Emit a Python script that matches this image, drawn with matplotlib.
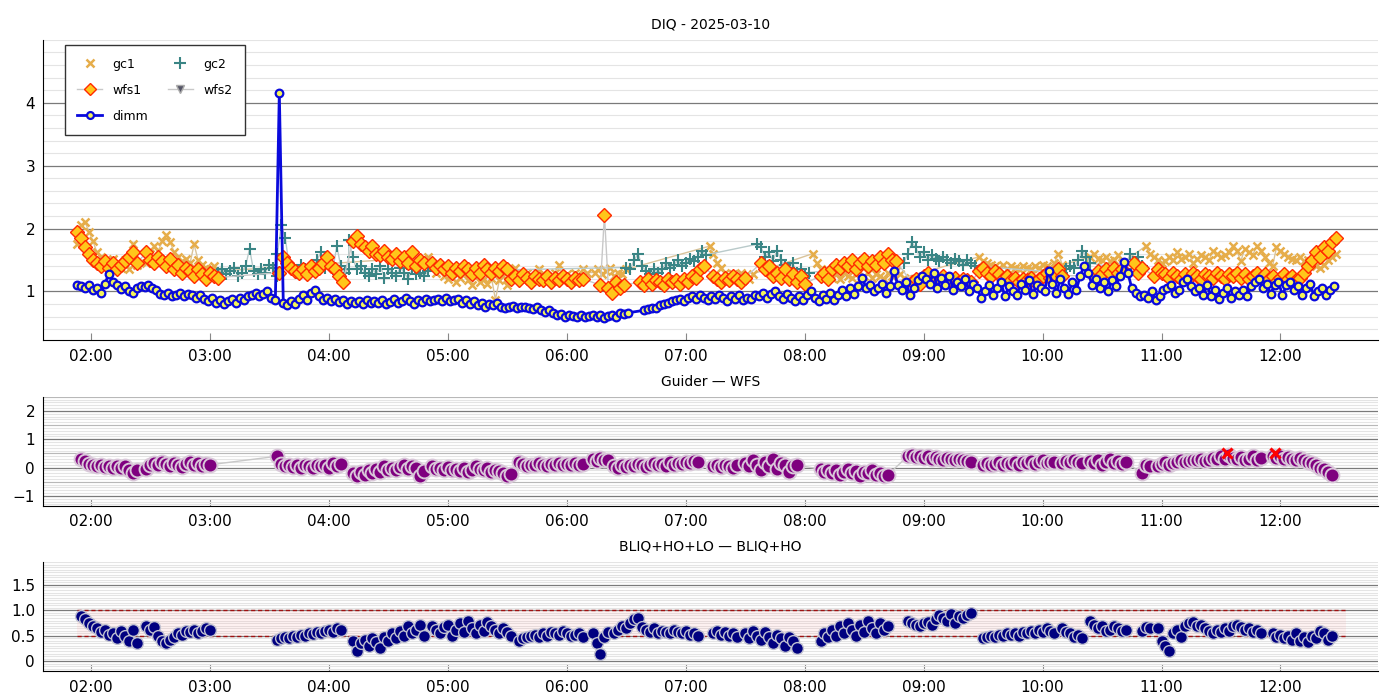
import datetime as dt
import matplotlib
matplotlib.use("Agg")
import matplotlib.pyplot as plt
import matplotlib.dates as mdates
from matplotlib.ticker import MultipleLocator, FixedLocator

BASE = dt.datetime(2025, 3, 10)
STEP_MIN = 2  # sampling cadence of all series (minutes)

# ---------------- DATA (segments: start time, values every STEP_MIN) ----------
dimm = [
    ("01:53", [1.10, 1.08, 1.05, 1.10, 1.02, 1.06, 0.98, 1.12, 1.28, 1.15, 1.10, 1.04, 1.08, 1.00, 0.97,
               1.05, 1.08, 1.07, 1.10, 1.06, 1.02, 0.96, 0.94, 0.97, 0.93, 0.95, 0.98, 0.92, 0.96, 0.94,
               0.90, 0.95, 0.88, 0.84, 0.90, 0.82, 0.86, 0.80, 0.84, 0.88, 0.82, 0.90, 0.86, 0.93, 0.95,
               0.97, 0.92, 0.96, 1.00, 0.90, 0.86, 4.16, 0.82, 0.78, 0.84, 0.80, 0.88, 0.95, 0.86, 0.97,
               1.02, 0.92, 0.86, 0.90, 0.84, 0.88, 0.83, 0.86, 0.80, 0.85, 0.82, 0.84, 0.80, 0.86, 0.82,
               0.84, 0.81, 0.86, 0.80, 0.83, 0.88, 0.82, 0.85, 0.90, 0.84, 0.80, 0.86, 0.83, 0.88, 0.84,
               0.86, 0.88, 0.85, 0.90, 0.84, 0.86, 0.88, 0.82, 0.86, 0.80, 0.84, 0.78, 0.82, 0.76, 0.80,
               0.78, 0.82, 0.76, 0.74, 0.75, 0.77, 0.74, 0.76, 0.75, 0.74, 0.72, 0.75, 0.70, 0.67, 0.70,
               0.66, 0.62, 0.64, 0.60, 0.63, 0.61, 0.60, 0.62, 0.59, 0.61, 0.63, 0.60, 0.62, 0.58, 0.61,
               0.62, 0.60, 0.66, 0.64, 0.66]),
    ("06:39", [0.70, 0.72, 0.74, 0.73, 0.78, 0.80, 0.82, 0.84, 0.86, 0.88, 0.85, 0.90,
               0.92, 0.88, 0.94, 0.90, 0.86, 0.93, 0.88, 0.95, 0.90, 0.85, 0.92, 0.88, 0.94, 0.86, 0.90,
               0.88, 0.95, 0.92, 0.98, 0.90, 0.96, 1.00, 0.92, 0.88, 0.96, 0.90, 0.84, 0.92, 0.86, 0.95,
               1.00, 0.90, 0.84, 0.95, 0.88, 0.98, 0.86, 0.94, 1.02, 0.92, 1.05, 0.96, 1.08, 1.22, 1.05,
               1.10, 1.00, 1.06, 1.12, 0.98, 1.08, 1.33, 1.10, 1.02, 1.15, 0.95, 1.06, 1.18, 1.25, 1.20,
               1.12, 1.30, 1.05, 1.22, 1.10, 1.25, 1.02, 1.15, 1.08, 1.20, 1.00, 1.12, 1.05, 0.90, 1.00,
               1.10, 0.95, 1.05, 1.15, 0.92, 1.08, 1.00, 0.94, 1.12, 1.02, 1.18, 0.96, 1.10, 1.05, 1.00,
               1.33, 1.12, 0.98, 1.20, 1.05, 0.96, 1.15, 1.02, 1.25, 1.41, 1.30, 1.10, 1.20, 1.05, 1.15,
               1.00, 1.18, 1.08, 1.25, 1.46, 1.30, 1.05, 0.98, 0.92, 0.95, 0.90, 1.00, 0.86, 0.92, 1.02,
               1.05, 1.10, 0.98, 1.02, 1.15, 1.20, 1.08, 1.00, 1.06, 0.95, 1.10, 0.92, 1.02, 0.88, 0.98,
               1.05, 0.90, 1.00, 0.95, 1.02, 0.92, 1.08, 1.15, 1.20, 1.05, 1.12, 0.96, 1.10, 1.15, 0.94,
               1.10, 1.15, 1.02, 1.08, 0.95, 1.05, 1.12, 0.92, 1.00, 1.06, 0.94, 1.02, 1.08]),
]

gc1 = [
    ("01:53", [1.75, 2.05, 2.10, 1.95, 1.80, 1.62, 1.55, 1.48, 1.45, 1.52, 1.40, 1.38, 1.50, 1.36, 1.75, 1.42]),
    ("02:28", [1.45, 1.60, 1.72, 1.65, 1.80, 1.90, 1.78, 1.62, 1.55, 1.48, 1.52, 1.45, 1.75, 1.50, 1.42,
               1.38, 1.35, 1.40, 1.32]),
    ("04:50", [1.55, 1.40, 1.30, 1.35, 1.25, 1.20, 1.30, 1.15, 1.22, 1.28, 1.18, 1.10, 1.25, 1.15, 1.20,
               1.12, 1.22, 0.87, 1.18, 1.25, 1.10]),
    ("05:32", [1.22, 1.38, 1.28, 1.20, 1.30, 1.25, 1.22, 1.35, 1.28, 1.25, 1.18, 1.30, 1.42, 1.25, 1.28,
               1.22, 1.30, 1.25, 1.35, 1.30]),
    ("06:14", [1.30, 1.35, 1.28, 1.32, 1.38, 1.25, 1.30, 1.28, 1.35]),
    ("07:12", [1.72, 1.60, 1.45, 1.38, 1.30, 1.25, 1.28, 1.22, 1.30, 1.25, 1.20, 1.28]),
    ("08:04", [1.60, 1.45, 1.35, 1.30, 1.25, 1.22, 1.28, 1.20, 1.30, 1.25, 1.22, 1.28, 1.20, 1.25, 1.30,
               1.22, 1.28, 1.25, 1.20, 1.30, 1.25, 1.32, 1.28, 1.22]),
    ("09:28", [1.55, 1.48, 1.45, 1.42, 1.40, 1.38, 1.42, 1.36, 1.40, 1.38, 1.35, 1.40, 1.38, 1.36, 1.40,
               1.38, 1.42, 1.40, 1.38, 1.45, 1.60, 1.42]),
    ("10:24", [1.55, 1.60, 1.52, 1.50, 1.55, 1.48, 1.50, 1.58, 1.45]),
    ("10:52", [1.72, 1.60, 1.55, 1.50, 1.45, 1.48, 1.55, 1.50, 1.62, 1.52, 1.55, 1.60, 1.45, 1.52, 1.58,
               1.55, 1.50, 1.65, 1.60, 1.55, 1.58, 1.62, 1.72, 1.65, 1.48, 1.68, 1.62, 1.58, 1.72, 1.65,
               1.55, 1.45, 1.40, 1.70, 1.65, 1.60, 1.55, 1.52, 1.50, 1.55, 1.48, 1.50, 1.45, 1.40, 1.38,
               1.42, 1.50, 1.55, 1.60]),
]

gc2 = [
    ("03:04", [1.30, 1.35, 1.28, 1.32, 1.38, 1.25, 1.30, 1.40, 1.68, 1.33, 1.28, 1.35, 1.30, 1.42, 1.38, 1.25]),
    ("03:34", [1.60, 2.05, 1.85, 1.40, 1.35, 1.30, 1.42, 1.35, 1.28, 1.40, 1.50, 1.62, 1.38, 1.45, 1.35,
               1.72, 1.40, 1.30, 1.35]),
    ("04:10", [1.82, 1.55, 1.35, 1.40, 1.30, 1.25, 1.35, 1.28, 1.40, 1.22, 1.35, 1.30, 1.25, 1.38, 1.30,
               1.20, 1.35, 1.28, 1.30, 1.25, 1.32]),
    ("06:30", [1.38, 1.35, 1.50, 1.60, 1.40, 1.32, 1.28, 1.35]),
    ("06:46", [1.30, 1.35, 1.45, 1.38, 1.42, 1.50, 1.40, 1.45, 1.52, 1.48, 1.55, 1.65, 1.58]),
    ("07:36", [1.75, 1.70, 1.55, 1.62, 1.48, 1.65, 1.50, 1.42, 1.38, 1.45, 1.30, 1.35, 1.25, 1.30]),
    ("08:50", [1.45, 1.60, 1.78, 1.70, 1.55, 1.62, 1.50, 1.58, 1.52, 1.48, 1.55, 1.50, 1.45, 1.52, 1.48,
               1.42, 1.50, 1.45, 1.40]),
    ("10:10", [1.30, 1.35, 1.40, 1.38, 1.50, 1.65, 1.55, 1.45]),
    ("10:42", [1.35, 1.60, 1.45, 1.55, 1.40]),
]

wfs1 = [
    ("01:53", [1.95, 1.85, 1.70, 1.60, 1.50, 1.45, 1.40, 1.48, 1.38, 1.45, 1.35, 1.42, 1.48, 1.55, 1.62, 1.45]),
    ("02:28", [1.62, 1.50, 1.45, 1.55, 1.48, 1.40, 1.52, 1.35, 1.42, 1.30, 1.38, 1.32, 1.25, 1.35, 1.28,
               1.20, 1.30, 1.25, 1.22]),
    ("03:35", [1.30, 1.55, 1.45, 1.38, 1.32, 1.30, 1.35, 1.28, 1.40, 1.32, 1.38, 1.45, 1.55, 1.40, 1.35,
               1.25, 1.15]),
    ("04:12", [1.80, 1.88, 1.75, 1.70, 1.65, 1.72, 1.60, 1.58, 1.65, 1.55, 1.52, 1.60, 1.48, 1.55, 1.45,
               1.62, 1.40, 1.50, 1.45]),
    ("04:52", [1.45, 1.38, 1.42, 1.35, 1.40, 1.30, 1.38, 1.32, 1.40, 1.35, 1.28, 1.38, 1.30, 1.42, 1.35,
               1.30, 1.38, 1.32, 1.40, 1.35]),
    ("05:32", [1.20, 1.25, 1.18, 1.28, 1.22, 1.15, 1.25, 1.20, 1.18, 1.24, 1.15, 1.22, 1.18, 1.25, 1.20,
               1.15, 1.22, 1.18, 1.20]),
    ("06:17", [1.10, 2.22, 1.05, 0.98, 1.15, 1.05, 1.10]),
    ("06:37", [1.15, 1.10, 1.20, 1.12, 1.18, 1.15, 1.10, 1.20, 1.15, 1.18, 1.12, 1.20, 1.15, 1.25, 1.22,
               1.35, 1.40]),
    ("07:14", [1.25, 1.20, 1.15, 1.22, 1.18, 1.25, 1.20, 1.15, 1.22]),
    ("07:38", [1.45, 1.35, 1.40, 1.25, 1.30, 1.22, 1.35, 1.20, 1.28, 1.15, 1.25, 1.12]),
    ("08:08", [1.25, 1.30, 1.20, 1.35, 1.42, 1.38, 1.45, 1.40, 1.50, 1.35, 1.45, 1.52, 1.40, 1.48, 1.42,
               1.55, 1.45, 1.60, 1.50, 1.48]),
    ("08:54", [1.15, 1.20, 1.12, 1.25, 1.30, 1.20, 1.22, 1.15, 1.25, 1.20, 1.18, 1.22, 1.15, 1.20, 1.18, 1.15]),
    ("09:28", [1.32, 1.38, 1.30, 1.25, 1.32, 1.28, 1.20, 1.25, 1.18, 1.22, 1.15, 1.20, 1.18, 1.22, 1.15,
               1.20, 1.25, 1.30, 1.22, 1.28, 1.35, 1.25]),
    ("10:26", [1.25, 1.32, 1.28, 1.35, 1.30, 1.38, 1.30, 1.35]),
    ("10:46", [1.45, 1.30, 1.38]),
    ("10:56", [1.25, 1.35, 1.30, 1.28, 1.22, 1.30, 1.25, 1.20, 1.28, 1.22, 1.30, 1.25, 1.20, 1.28, 1.25,
               1.22, 1.30, 1.25, 1.20, 1.28, 1.25, 1.30, 1.22, 1.28, 1.20, 1.25, 1.30, 1.22, 1.28, 1.20,
               1.25, 1.15, 1.22, 1.28, 1.20, 1.25, 1.18, 1.22, 1.30, 1.40, 1.50, 1.62, 1.55, 1.70, 1.65,
               1.78, 1.85]),
]

wfs2 = []  # no wfs2 measurements on this night

guider_minus_wfs = [
    ("01:55", [0.30, 0.22, 0.12, 0.08, 0.05, 0.10, 0.02, 0.06, 0.00, 0.04, -0.02, 0.05, -0.10, -0.18, -0.08]),
    ("02:28", [-0.05, 0.10, 0.15, 0.08, 0.20, 0.12, 0.05, 0.15, 0.10, 0.02, 0.12, 0.18, 0.08, 0.15, 0.05, 0.12, 0.10]),
    ("03:34", [0.40, 0.12, 0.05, 0.10, 0.02, 0.08, 0.00, 0.10, 0.05, -0.02, 0.08, 0.04, 0.10, 0.00, 0.15, 0.05, 0.12]),
    ("04:12", [-0.20, -0.30, -0.15, -0.25, -0.10, -0.20, -0.05, -0.15, 0.05, -0.10, 0.00, -0.08, 0.02, 0.08,
               -0.05, 0.05, -0.02, -0.30, -0.12]),
    ("04:52", [0.05, -0.05, 0.00, -0.08, 0.02, -0.10, -0.05, -0.12, 0.00, -0.15, -0.08, 0.05, -0.05, -0.10,
               -0.02, -0.15, -0.08, -0.12, -0.20, -0.28, -0.22]),
    ("05:36", [0.20, 0.12, 0.05, 0.10, 0.08, 0.15, 0.10, 0.05, 0.12, 0.08, 0.15, 0.10, 0.12, 0.08, 0.15, 0.10, 0.12]),
    ("06:13", [0.30, 0.22, 0.35, 0.28, 0.25]),
    ("06:24", [0.05, 0.00, 0.08, 0.02, 0.10, 0.05, 0.12, 0.08, 0.02, 0.10, 0.15, 0.08, 0.12, 0.05, 0.18,
               0.10, 0.15, 0.12, 0.20, 0.15, 0.22, 0.18]),
    ("07:14", [0.05, 0.10, 0.02, 0.08, 0.05, 0.00, 0.10]),
    ("07:30", [0.15, 0.05, 0.25, 0.10, -0.10, 0.20, 0.05, 0.30, -0.05, 0.15, 0.10, -0.15, 0.05, 0.08]),
    ("08:08", [-0.05, -0.15, -0.08, -0.20, -0.10, -0.25, -0.15, -0.05, -0.20, -0.12, -0.28, -0.15, -0.20,
               -0.10, -0.25, -0.18, -0.30, -0.25]),
    ("08:52", [0.40, 0.45, 0.38, 0.42, 0.35, 0.40, 0.30, 0.38, 0.32, 0.28, 0.35, 0.30, 0.25, 0.30, 0.28, 0.22, 0.20]),
    ("09:30", [0.10, 0.15, 0.08, 0.12, 0.20, 0.10, 0.15, 0.12, 0.18, 0.10, 0.20, 0.15, 0.22, 0.12, 0.18,
               0.25, 0.15, 0.20, 0.18]),
    ("10:10", [0.15, 0.22, 0.18, 0.25, 0.20, 0.15]),
    ("10:24", [0.22, 0.15, 0.25, 0.10, 0.20, 0.30, 0.15, 0.22, 0.12, 0.20]),
    ("10:50", [-0.20, 0.10, 0.05]),
    ("10:58", [0.05, 0.12, 0.20, 0.10]),
    ("11:06", [0.15, 0.20, 0.25, 0.18, 0.22, 0.28, 0.25, 0.30, 0.22, 0.28, 0.35, 0.30, 0.40, 0.32, 0.45,
               0.35, 0.30, 0.38, 0.25, 0.32, 0.40, 0.28, 0.35]),
    ("11:56", [0.40, 0.35, 0.42, 0.30, 0.38, 0.32, 0.25, 0.35, 0.28, 0.20, 0.15, 0.10, 0.00, -0.05, -0.15, -0.25]),
]
flag_times = ["11:33", "11:57"]
flag_values = [0.50, 0.50]

bliq_diff = [
    ("01:55", [0.88, 0.82, 0.75, 0.70, 0.65, 0.58, 0.62, 0.52, 0.55, 0.45, 0.60, 0.50, 0.40, 0.62, 0.35]),
    ("02:28", [0.70, 0.62, 0.68, 0.50, 0.40, 0.35, 0.42, 0.48, 0.55, 0.52, 0.60, 0.58, 0.62, 0.55, 0.60, 0.65, 0.62]),
    ("03:34", [0.42, 0.45, 0.48, 0.45, 0.50, 0.48, 0.52, 0.50, 0.55, 0.53, 0.58, 0.55, 0.60, 0.62, 0.58, 0.65, 0.62]),
    ("04:12", [0.40, 0.20, 0.35, 0.42, 0.30, 0.45, 0.38, 0.25, 0.48, 0.40, 0.55, 0.45, 0.60, 0.50, 0.70,
               0.55, 0.62, 0.72, 0.50]),
    ("04:52", [0.70, 0.62, 0.55, 0.68, 0.72, 0.50, 0.62, 0.75, 0.58, 0.80, 0.65, 0.55, 0.72, 0.60, 0.78,
               0.70, 0.62, 0.55, 0.65, 0.58, 0.50]),
    ("05:36", [0.40, 0.45, 0.48, 0.50, 0.52, 0.48, 0.55, 0.50, 0.58, 0.55, 0.52, 0.60, 0.55, 0.50, 0.52, 0.55, 0.48]),
    ("06:13", [0.55, 0.35, 0.15, 0.48, 0.58]),
    ("06:24", [0.55, 0.62, 0.70, 0.65, 0.75, 0.82, 0.85, 0.68, 0.62, 0.58, 0.65, 0.55, 0.60, 0.58, 0.55,
               0.62, 0.58, 0.55, 0.60, 0.52, 0.55, 0.50]),
    ("07:14", [0.55, 0.60, 0.52, 0.58, 0.50, 0.55, 0.48]),
    ("07:30", [0.55, 0.45, 0.60, 0.50, 0.42, 0.58, 0.48, 0.35, 0.52, 0.45, 0.30, 0.48, 0.40, 0.25]),
    ("08:08", [0.40, 0.55, 0.48, 0.62, 0.50, 0.70, 0.55, 0.75, 0.62, 0.50, 0.72, 0.58, 0.80, 0.65, 0.55,
               0.75, 0.62, 0.70]),
    ("08:52", [0.80, 0.75, 0.72, 0.70, 0.75, 0.78, 0.72, 0.82, 0.90, 0.85, 0.80, 0.92, 0.75, 0.88, 0.85, 0.90, 0.95]),
    ("09:30", [0.45, 0.48, 0.50, 0.47, 0.52, 0.50, 0.55, 0.52, 0.55, 0.50, 0.58, 0.55, 0.60, 0.55, 0.62,
               0.58, 0.65, 0.60, 0.55]),
    ("10:10", [0.65, 0.58, 0.55, 0.48, 0.52, 0.45]),
    ("10:24", [0.80, 0.72, 0.65, 0.70, 0.60, 0.62, 0.70, 0.65, 0.60, 0.62]),
    ("10:50", [0.60, 0.68, 0.65]),
    ("10:58", [0.65, 0.40, 0.30, 0.20]),
    ("11:06", [0.55, 0.62, 0.48, 0.70, 0.75, 0.78, 0.70, 0.72, 0.65, 0.60, 0.55, 0.62, 0.58, 0.65, 0.60,
               0.70, 0.72, 0.68, 0.62, 0.65, 0.58, 0.62, 0.55]),
    ("11:56", [0.55, 0.48, 0.52, 0.45, 0.50, 0.42, 0.55, 0.40, 0.48, 0.38, 0.50, 0.45, 0.60, 0.55, 0.42, 0.50]),
]
bliq_limits = [0.5, 1.0]

title_top = "DIQ - 2025-03-10"
title_mid = "Guider \u2014 WFS"
title_bot = "BLIQ+HO+LO \u2014 BLIQ+HO"
x_window = ("01:36", "12:49")


# ---------------- helpers ----------------
def hm(s):
    h, m = map(int, s.split(":"))
    return BASE + dt.timedelta(hours=h, minutes=m)


def build(segs):
    ts, vs = [], []
    for start, vals in segs:
        t0 = hm(start)
        ts += [t0 + dt.timedelta(minutes=STEP_MIN * i) for i in range(len(vals))]
        vs += list(vals)
    return ts, vs


t_dimm, v_dimm = build(dimm)
t_gc1, v_gc1 = build(gc1)
t_gc2, v_gc2 = build(gc2)
t_wfs1, v_wfs1 = build(wfs1)
t_wfs2, v_wfs2 = build(wfs2)
t_gw, v_gw = build(guider_minus_wfs)
t_bl, v_bl = build(bliq_diff)
t_flag = [hm(s) for s in flag_times]

# ---------------- figure ----------------
plt.rcParams["font.family"] = ["DejaVu Sans"]
fig = plt.figure(figsize=(14, 7), dpi=100)
gs = fig.add_gridspec(3, 1, height_ratios=[300, 109, 109], left=0.031, right=0.984,
                      top=0.943, bottom=0.041, hspace=0.325)
ax1 = fig.add_subplot(gs[0])
ax2 = fig.add_subplot(gs[1])
ax3 = fig.add_subplot(gs[2])

# top panel
ax1.plot(t_gc1, v_gc1, color="#d9c39a", lw=1.0, zorder=2)
h_gc1, = ax1.plot(t_gc1, v_gc1, ls="none", marker="x", ms=6, mew=1.8,
                  mec="#e6ad4a", mfc="#e6ad4a", label="gc1", zorder=2)
ax1.plot(t_gc2, v_gc2, color="#b9caca", lw=1.0, zorder=2)
h_gc2, = ax1.plot(t_gc2, v_gc2, ls="none", marker="+", ms=9, mew=1.5,
                  mec="#3a8585", label="gc2", zorder=2)
h_wfs1, = ax1.plot(t_wfs1, v_wfs1, color="#c8c8c8", lw=1.0, marker="D", ms=7, mew=1.0,
                   mfc="#ffc61a", mec="#ff2a00", label="wfs1", zorder=3)
h_wfs2, = ax1.plot(t_wfs2, v_wfs2, color="#c8c8c8", lw=1.0, marker="v", ms=7, mew=1.0,
                   mfc="#555566", mec="#aaaaaa", label="wfs2", zorder=3)
h_dimm, = ax1.plot(t_dimm, v_dimm, color="#0a0adc", lw=2.0, marker="o", ms=5.5, mew=1.6,
                   mfc="#f4f45a", mec="#0a0adc", label="dimm", zorder=4)
ax1.set_ylim(0.22, 5.0)
ax1.yaxis.set_major_locator(FixedLocator([1, 2, 3, 4]))
ax1.yaxis.set_minor_locator(MultipleLocator(0.2))
ax1.set_title(title_top, fontsize=10, pad=8)
leg = ax1.legend(handles=[h_gc1, h_wfs1, h_dimm, h_gc2, h_wfs2],
                 loc="upper left", bbox_to_anchor=(0.016, 0.983), ncol=2, fontsize=9,
                 frameon=True, fancybox=False, borderaxespad=0, handlelength=2.0,
                 columnspacing=1.6, borderpad=1.0, labelspacing=1.05, markerscale=0.9)
leg.get_frame().set_edgecolor("#333333")
leg.get_frame().set_linewidth(1.0)
leg.get_frame().set_alpha(1.0)

# middle panel
ax2.plot(t_gw, v_gw, color="#c8c8c8", lw=1.0, marker="o", ms=10, mew=1.4,
         mfc="#7f007f", mec="#d9c8d9", zorder=3)
ax2.plot(t_flag, flag_values, ls="none", marker="x", ms=7, mew=2.2, color="red", zorder=4)
ax2.set_ylim(-1.35, 2.5)
ax2.yaxis.set_major_locator(FixedLocator([-1, 0, 1, 2]))
ax2.yaxis.set_minor_locator(MultipleLocator(0.1))
for yv in [-0.5, 0.5, 1.5, 2.5]:
    ax2.axhline(yv, color="#b8b8b8", lw=0.8, zorder=0.6)
ax2.set_title(title_mid, fontsize=10, pad=8)

# bottom panel
x0, x1 = t_dimm[0], t_dimm[-1] + dt.timedelta(minutes=6)
ax3.fill_between([x0, x1], bliq_limits[0], bliq_limits[1], color="#ff9999", alpha=0.12, lw=0, zorder=1)
for yv in bliq_limits:
    ax3.plot([x0, x1], [yv, yv], color="#a01010", lw=1.0, ls=(0, (3, 2)), zorder=2)
ax3.plot(t_bl, v_bl, ls="none", marker="o", ms=8.5, mew=1.0, mfc="#000080", mec="#bfc0d0", zorder=3)
ax3.set_ylim(-0.2, 1.95)
ax3.yaxis.set_major_locator(FixedLocator([0, 0.5, 1.0, 1.5]))
ax3.set_yticklabels(["0", "0.5", "1.0", "1.5"])
ax3.yaxis.set_minor_locator(MultipleLocator(0.05))
ax3.set_title(title_bot, fontsize=10, pad=8)

for ax in (ax1, ax2, ax3):
    ax.set_xlim(hm(x_window[0]), hm(x_window[1]))
    ax.xaxis.set_major_locator(mdates.HourLocator())
    ax.xaxis.set_major_formatter(mdates.DateFormatter("%H:%M"))
    ax.grid(which="major", axis="y", color="#7a7a7a", lw=0.9, zorder=0.5)
    ax.grid(which="minor", axis="y", color="#e4e4e4", lw=0.8, zorder=0.4)
    ax.set_axisbelow(True)
    for sp in ("top", "right"):
        ax.spines[sp].set_visible(False)
    ax.spines["left"].set_color("black")
    ax.spines["bottom"].set_color("black")
    ax.tick_params(axis="x", direction="in", length=5, color="#888888", labelsize=11, pad=6)
    ax.tick_params(axis="y", which="both", length=0, labelsize=11, pad=6)
    ax.tick_params(axis="x", which="minor", length=0)

fig.savefig("out.png", dpi=100)
